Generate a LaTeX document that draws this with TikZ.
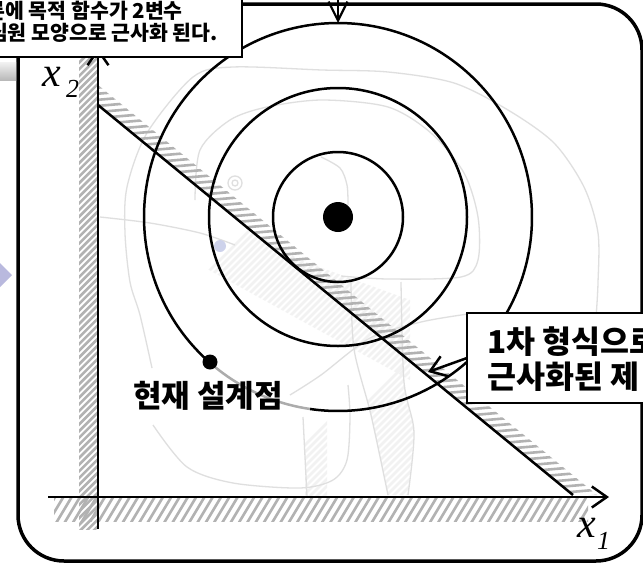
\documentclass[tikz,border=0pt]{standalone}
\usepackage{fontspec}
\newfontfamily\kr{Noto Sans CJK KR}
\newfontfamily\tnr{Liberation Serif}
\usetikzlibrary{arrows.meta}
\definecolor{lav}{RGB}{185,185,222}
\definecolor{ghostblue}{RGB}{205,210,235}
\begin{document}
\begin{tikzpicture}[x=1pt,y=-1pt,
  circ/.style={line width=2.5pt},
  hatchd/.style={gray!60, line width=2.6pt},
  ghost/.style={gray!25, line width=1.3pt},
  ghosthatch/.style={gray!10, line width=2.6pt},
  barbarrow/.style={-{Straight Barb[length=15pt,width=21pt]}},
  krb/.style={font=\kr\bfseries\fontsize{#1}{#1}\selectfont, inner sep=0pt},
  tlabel/.style={font=\tnr\itshape\fontsize{#1}{#1}\selectfont, inner sep=0pt}]
\useasboundingbox (0,0) rectangle (643,565);
\begin{scope}
\clip (0,0) rectangle (643,565);
\fill[white] (0,0) rectangle (643,565);

% ---- faint background picture ----
\begin{scope}
\clip (98,180) -- (200,200) -- (300,260) -- (410,300) -- (410,380) -- (300,320) -- (200,265) -- (98,235) -- cycle;
\foreach \k in {0,...,80} \draw[ghosthatch] (60+\k*7,420) -- ++(300,-300);
\end{scope}
\begin{scope}
\clip (352,282) -- (401,282) -- (404,382) -- (414,432) -- (408,495) -- (388,495) -- (371,415) -- (354,349) -- cycle;
\foreach \k in {0,...,60} \draw[ghosthatch] (250+\k*7,520) -- ++(250,-250);
\end{scope}
\begin{scope}
\clip (305,400) rectangle (327,497);
\foreach \k in {0,...,30} \draw[ghosthatch] (230+\k*7,520) -- ++(120,-120);
\end{scope}
\draw[ghost] plot[smooth] coordinates {(152,368) (140,315) (130,282) (125,233) (127,187) (147,133) (193,77) (233,67) (322,70) (388,72) (454,83) (508,110) (554,143) (584,187) (598,233) (598,283) (596,318)};
\draw[ghost] plot[smooth] coordinates {(195,200) (200,150) (230,120) (267,107) (322,100) (388,107) (431,133) (464,173) (478,217) (478,260) (461,277) (388,279) (341,276)};
\draw[ghost] plot[smooth] coordinates {(321,157) (340,168) (347,185) (348,205)};
\draw[ghost] plot[smooth] coordinates {(153,425) (187,467) (233,483) (300,488) (333,480) (347,460) (350,417) (348,385)};
\draw[ghost] plot[smooth] coordinates {(351,282) (354,349) (371,415) (388,495)};
\draw[ghost] plot[smooth] coordinates {(401,282) (404,382) (414,432) (408,495)};
\draw[ghost] plot[smooth] coordinates {(290,395) (321,375) (370,338) (421,322) (468,314)};
\draw[ghost] plot[smooth] coordinates {(303,417) (307,497)};
\draw[ghost] plot[smooth] coordinates {(100,217) (150,223) (200,233) (235,245)};
\fill[ghostblue] (220,246) circle[radius=6];
\draw[ghost] (235,183) circle[radius=7];
\draw[ghost] (235,183) circle[radius=3];

% ---- hatched bands ----
\begin{scope}
\clip (79,50) rectangle (98,529);
\foreach \k in {0,...,75} \draw[hatchd] (75,60+\k*6.7) -- ++(30,-30);
\end{scope}
\begin{scope}
\clip (54,497) rectangle (588,521);
\foreach \k in {0,...,72} \draw[hatchd] (30+\k*8.3,525) -- ++(18,-30);
\end{scope}
\begin{scope}
\clip (98,85) -- (597,495) -- (573,495) -- (98,105) -- cycle;
\foreach \k in {0,...,82} \draw[hatchd] (90,70+\k*6.1) -- ++(520,-45);
\end{scope}

% ---- circles and constraint ----
\coordinate (c) at (338,217);
\draw[circ] (c) circle[radius=65];
\draw[circ] (c) circle[radius=129];
\draw[circ] (c) ++(131.4:194) arc[start angle=131.4,end angle=458.3,radius=194];
\draw[circ, gray!65] (c) ++(98.3:194) arc[start angle=98.3,end angle=131.4,radius=194];
\coordinate (g1) at (98,105);
\coordinate (g2) at (573,495);
\draw[circ] (g1) -- (g2);

% ---- axes ----
\coordinate (o2) at (98,529);
\coordinate (t2) at (98,48);
\coordinate (o1) at (48,497);
\coordinate (t1) at (609,497);
\draw[line width=2.5pt, barbarrow] (o2) -- (t2);
\draw[line width=2.5pt, barbarrow] (o1) -- (t1);

% ---- points ----
\fill (c) circle[radius=15];
\coordinate (p) at (210,362);
\fill (p) circle[radius=7.5];
\node[krb=31, anchor=base west] (plabel) at (133,407) {현재 설계점};

% ---- frame ----
\draw[line width=3.5pt, rounded corners=46pt] (18,4) rectangle (642,561);

% ---- top-left note ----
\draw[line width=2.5pt, fill=white] (-10,-10) rectangle (242,57);
\node[krb=20.5, anchor=base east] (note1) at (183,18) {론에 목적 함수가 2변수};
\node[krb=20.5, anchor=base east] (note2) at (218,40.5) {심원 모양으로 근사화 된다.};
\coordinate (a0) at (338,-8);
\coordinate (a1) at (338,23);
\draw[line width=2.2pt, -{Straight Barb[length=19pt,width=19pt]}] (a0) -- (a1);

% ---- constraint callout ----
\draw[line width=2.7pt, fill=white] (467,313) rectangle (660,403);
\node[krb=31.5, anchor=base west] (cl1) at (487,353) {1차 형식으로};
\node[krb=31.5, anchor=base west] (cl2) at (487,388) {근사화된 제};
\coordinate (cs) at (467,358);
\coordinate (ct) at (428,372);
\draw[line width=2.5pt, barbarrow] (cs) -- (ct);

% ---- axis labels ----
\node[tlabel=42, anchor=base west] (x2x) at (42,86) {x};
\node[tlabel=26, anchor=base west] (x2s) at (66,97) {2};
\node[tlabel=42, anchor=base west] (x1x) at (577,537) {x};
\node[tlabel=26, anchor=base west] (x1s) at (597,549) {1};

% ---- outside decorations ----
\fill[lav] (12,275) -- (-12,251) -- (-12,299) -- cycle;
\shade[top color=gray!10, bottom color=gray!55] (-5,62) rectangle (16,80);
\end{scope}
\end{tikzpicture}
\end{document}
